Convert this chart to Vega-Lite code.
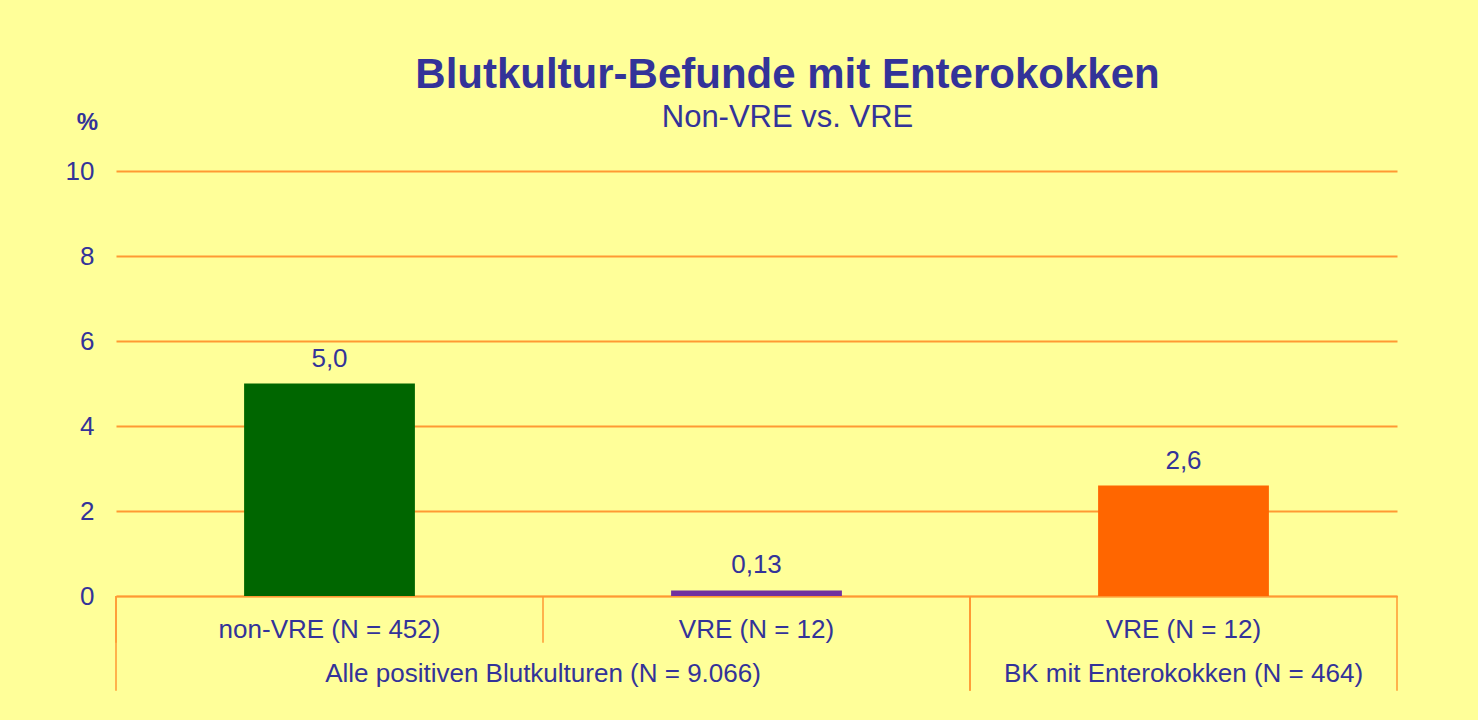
{
  "$schema": "https://vega.github.io/schema/vega-lite/v6.json",
  "width": 1281,
  "height": 425,
  "autosize": {"type": "none"},
  "padding": {"left": 116, "top": 171, "right": 81, "bottom": 124},
  "background": "#FFFF99",
  "config": {"view": {"stroke": null}, "font": "Liberation Sans"},
  "title": {
    "text": "Blutkultur-Befunde mit Enterokokken",
    "subtitle": "Non-VRE vs. VRE",
    "frame": "group",
    "anchor": "middle",
    "dx": 31,
    "offset": -24,
    "subtitlePadding": 6,
    "font": "Liberation Sans",
    "fontSize": 42,
    "fontWeight": "bold",
    "color": "#333399",
    "subtitleFont": "Liberation Sans",
    "subtitleFontSize": 31,
    "subtitleFontWeight": "normal",
    "subtitleColor": "#333399"
  },
  "datasets": {
    "bars": [
      {"cat": "1|non-VRE (N = 452)", "group": "Alle positiven Blutkulturen (N = 9.066)", "percent": 5.0, "label": "5,0"},
      {"cat": "2|VRE (N = 12)", "group": "Alle positiven Blutkulturen (N = 9.066)", "percent": 0.13, "label": "0,13"},
      {"cat": "3|VRE (N = 12)", "group": "BK mit Enterokokken (N = 464)", "percent": 2.6, "label": "2,6"}
    ],
    "groups": [
      {"group": "Alle positiven Blutkulturen (N = 9.066)", "first": "1|non-VRE (N = 452)", "last": "2|VRE (N = 12)"},
      {"group": "BK mit Enterokokken (N = 464)", "first": "3|VRE (N = 12)", "last": "3|VRE (N = 12)"}
    ]
  },
  "layer": [
    {
      "data": {"name": "bars"},
      "mark": {"type": "bar", "width": {"band": 0.4}},
      "encoding": {
        "x": {
          "field": "cat",
          "type": "nominal",
          "title": null,
          "scale": {"domain": ["1|non-VRE (N = 452)", "2|VRE (N = 12)", "3|VRE (N = 12)"], "paddingInner": 0, "paddingOuter": 0},
          "axis": {
            "orient": "bottom",
            "domain": true,
            "domainColor": "#FF9933",
            "domainWidth": 1.5,
            "ticks": false,
            "tickSize": 0,
            "grid": false,
            "labelAngle": 0,
            "labelPadding": 20,
            "labelLimit": 0,
            "labelFont": "Liberation Sans",
            "labelFontSize": 26,
            "labelColor": "#333399",
            "labelExpr": "split(datum.label, '|')[1]"
          }
        },
        "y": {
          "field": "percent",
          "type": "quantitative",
          "title": "%",
          "scale": {"domain": [0, 10], "nice": false},
          "axis": {
            "values": [0, 2, 4, 6, 8, 10],
            "grid": true,
            "gridColor": "#FF9933",
            "gridWidth": 2,
            "domain": false,
            "ticks": false,
            "tickSize": 0,
            "labelPadding": 22,
            "labelFont": "Liberation Sans",
            "labelFontSize": 26,
            "labelColor": "#333399",
            "title": "%",
            "titleAngle": 0,
            "titleX": -29,
            "titleY": -49,
            "titleAlign": "center",
            "titleBaseline": "middle",
            "titleFont": "Liberation Sans",
            "titleFontSize": 24,
            "titleFontWeight": "bold",
            "titleColor": "#333399"
          }
        },
        "color": {
          "field": "cat",
          "type": "nominal",
          "scale": {"domain": ["1|non-VRE (N = 452)", "2|VRE (N = 12)", "3|VRE (N = 12)"], "range": ["#006600", "#7030A0", "#FF6600"]},
          "legend": null
        }
      }
    },
    {
      "data": {"name": "bars"},
      "mark": {"type": "text", "baseline": "alphabetic", "dy": -17, "font": "Liberation Sans", "fontSize": 26, "color": "#333399"},
      "encoding": {
        "x": {"field": "cat", "type": "nominal", "title": null},
        "y": {"field": "percent", "type": "quantitative", "title": "%"},
        "text": {"field": "label"}
      }
    },
    {
      "data": {"name": "bars"},
      "mark": {"type": "rule", "color": "#FF9933", "strokeWidth": 1.5},
      "encoding": {
        "x": {"field": "cat", "type": "nominal", "bandPosition": 0, "title": null},
        "y": {"datum": 0, "title": "%"},
        "y2": {"datum": -1.1}
      }
    },
    {
      "data": {"name": "groups"},
      "mark": {"type": "rule", "color": "#FF9933", "strokeWidth": 1.5},
      "encoding": {
        "x": {"field": "first", "type": "nominal", "bandPosition": 0, "title": null},
        "y": {"datum": 0, "title": "%"},
        "y2": {"datum": -2.23}
      }
    },
    {
      "data": {"name": "groups"},
      "mark": {"type": "rule", "color": "#FF9933", "strokeWidth": 1.5},
      "encoding": {
        "x": {"field": "last", "type": "nominal", "bandPosition": 1, "title": null},
        "y": {"datum": 0, "title": "%"},
        "y2": {"datum": -2.23}
      }
    },
    {
      "data": {"name": "groups"},
      "transform": [{"filter": "datum.first != datum.last"}],
      "mark": {"type": "text", "baseline": "alphabetic", "font": "Liberation Sans", "fontSize": 26, "color": "#333399"},
      "encoding": {
        "x": {"field": "last", "type": "nominal", "bandPosition": 0, "title": null},
        "y": {"datum": -2.02, "title": "%"},
        "text": {"field": "group"}
      }
    },
    {
      "data": {"name": "groups"},
      "transform": [{"filter": "datum.first == datum.last"}],
      "mark": {"type": "text", "baseline": "alphabetic", "font": "Liberation Sans", "fontSize": 26, "color": "#333399"},
      "encoding": {
        "x": {"field": "last", "type": "nominal", "bandPosition": 0.5, "title": null},
        "y": {"datum": -2.02, "title": "%"},
        "text": {"field": "group"}
      }
    }
  ]
}
